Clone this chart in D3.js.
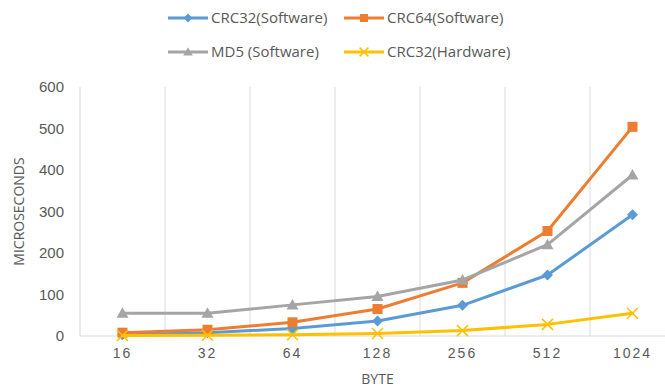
<!DOCTYPE html>
<html>
<head>
<meta charset="utf-8">
<script src="https://cdn.jsdelivr.net/npm/d3@7"></script>
<style>
  html, body { margin: 0; padding: 0; background: #fff; }
  svg { display: block; font-family: "Open Sans", "Liberation Sans", sans-serif; }
</style>
</head>
<body>
<svg id="chart" width="665" height="389"></svg>
<script>
// Message sizes (bytes) and hashing/checksum times (microseconds)
const categories = ["16", "32", "64", "128", "256", "512", "1024"];
const crc32Software = [3, 8, 18, 36, 74, 147, 292];
const crc64Software = [8, 15, 33, 65, 128, 253, 504];
const md5Software = [55, 55, 75, 95, 135, 220, 388];
const crc32Hardware = [1, 2, 3, 6, 13, 28, 55];
const yTicks = [0, 100, 200, 300, 400, 500, 600];

const seriesNames = ["CRC32(Software)", "CRC64(Software)", "MD5 (Software)", "CRC32(Hardware)"];
const seriesValues = [crc32Software, crc64Software, md5Software, crc32Hardware];
const seriesColors = ["#5B9BD5", "#ED7D31", "#A5A5A5", "#FFC000"];
const seriesMarkers = ["diamond", "square", "triangle", "cross"];

const svg = d3.select("#chart");
const margin = { left: 80, top: 87, bottom: 53 };
const bandWidth = 85;
const plotH = 389 - margin.top - margin.bottom;

const x = d3.scaleBand()
  .domain(categories)
  .range([margin.left, margin.left + bandWidth * categories.length]);
const y = d3.scaleLinear().domain([0, 600]).range([margin.top + plotH, margin.top]);

const grid = "#D9D9D9";
const textColor = "#595959";

// vertical gridlines at band edges
const edges = d3.range(categories.length + 1).map(i => margin.left + i * bandWidth);
svg.append("g").selectAll("line").data(edges).join("line")
  .attr("x1", d => d).attr("x2", d => d)
  .attr("y1", y(600)).attr("y2", y(0))
  .attr("stroke", grid).attr("stroke-width", 1);

// category axis line
svg.append("line")
  .attr("x1", margin.left).attr("x2", x.range()[1])
  .attr("y1", y(0)).attr("y2", y(0))
  .attr("stroke", grid).attr("stroke-width", 1);

// y axis labels
const yAxis = d3.axisLeft(y).tickValues(yTicks).tickSize(0).tickPadding(16);
const gy = svg.append("g").attr("transform", `translate(${margin.left},0)`).call(yAxis);
gy.select(".domain").remove();
gy.selectAll("text").attr("fill", textColor).style("font-size", "15px");

// x axis labels
const xAxis = d3.axisBottom(x).tickSize(0).tickPadding(12);
const gx = svg.append("g").attr("transform", `translate(0,${y(0)})`).call(xAxis);
gx.select(".domain").remove();
gx.selectAll("text").attr("fill", textColor).style("font-size", "14px").style("letter-spacing", "2px");

// axis titles
svg.append("text")
  .attr("x", x("128") + x.bandwidth() / 2).attr("y", 379)
  .attr("dy", "0.35em")
  .attr("text-anchor", "middle").attr("fill", textColor).style("font-size", "14px")
  .text("BYTE");
svg.append("text")
  .attr("transform", `translate(24,${y(300)}) rotate(-90)`)
  .attr("text-anchor", "middle").attr("fill", textColor).style("font-size", "14px")
  .text("MICROSECONDS");

const cx = c => x(c) + x.bandwidth() / 2;

function drawMarker(g, type, color, px, py, scale) {
  const s = scale || 1;
  if (type === "diamond") {
    const r = 5.5 * s;
    g.append("path").attr("d", `M${px},${py - r}L${px + r},${py}L${px},${py + r}L${px - r},${py}Z`).attr("fill", color);
  } else if (type === "square") {
    const r = 5 * s;
    g.append("rect").attr("x", px - r).attr("y", py - r).attr("width", 2 * r).attr("height", 2 * r).attr("fill", color);
  } else if (type === "triangle") {
    const r = 6 * s;
    g.append("path").attr("d", `M${px},${py - r}L${px + r},${py + r * 0.75}L${px - r},${py + r * 0.75}Z`).attr("fill", color);
  } else {
    const r = 5.5 * s;
    g.append("path").attr("d", `M${px - r},${py - r}L${px + r},${py + r}M${px + r},${py - r}L${px - r},${py + r}`)
      .attr("stroke", color).attr("stroke-width", 1.5).attr("fill", "none");
  }
}

const line = d3.line().x((d, i) => cx(categories[i])).y(d => y(d));

seriesValues.forEach((vals, k) => {
  const g = svg.append("g");
  g.append("path").datum(vals).attr("d", line)
    .attr("fill", "none").attr("stroke", seriesColors[k]).attr("stroke-width", 3)
    .attr("stroke-linejoin", "round").attr("stroke-linecap", "round");
  vals.forEach((v, i) => drawMarker(g, seriesMarkers[k], seriesColors[k], cx(categories[i]), y(v)));
});

// legend
const legendPos = [[168, 18], [344, 18], [168, 52], [344, 52]];
seriesNames.forEach((name, k) => {
  const [lx, ly] = legendPos[k];
  const g = svg.append("g");
  g.append("line").attr("x1", lx).attr("x2", lx + 40).attr("y1", ly).attr("y2", ly)
    .attr("stroke", seriesColors[k]).attr("stroke-width", 3);
  drawMarker(g, seriesMarkers[k], seriesColors[k], lx + 20, ly, 0.8);
  g.append("text").attr("x", lx + 43).attr("y", ly).attr("dy", "0.35em")
    .attr("fill", textColor).style("font-size", "15px").text(name);
});
</script>
</body>
</html>
